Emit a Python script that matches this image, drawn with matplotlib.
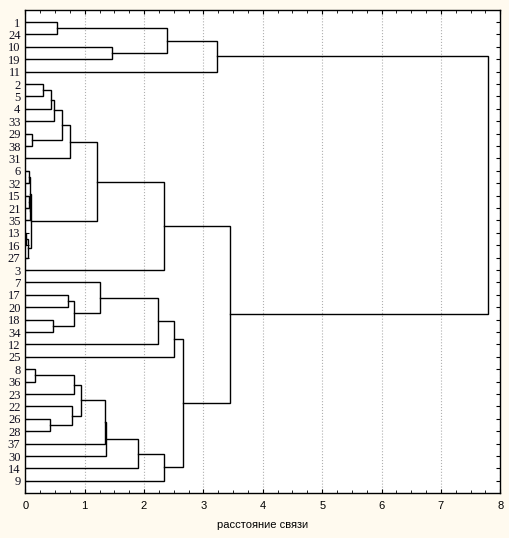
import matplotlib.pyplot as plt
from matplotlib.ticker import MultipleLocator

# leaf labels, top to bottom, as they appear on the tree
leaves = ["1", "24", "10", "19", "11", "2", "5", "4", "33", "29", "38", "31",
          "6", "32", "15", "21", "35", "13", "16", "27", "3", "7", "17", "20",
          "18", "34", "12", "25", "8", "36", "23", "22", "26", "28", "37", "30",
          "14", "9"]

# merges (scipy style ids: leaves 0..37, merge k gets id 38 + k)
merge_a = [0, 2, 38, 40, 5, 42, 43, 9, 44, 46, 12, 14, 49, 48, 17, 52, 51, 47,
           55, 22, 24, 57, 21, 60, 61, 28, 63, 32, 31, 64, 67, 68, 69, 70, 62,
           56, 41]
merge_b = [1, 3, 39, 4, 6, 7, 8, 10, 45, 11, 13, 15, 16, 50, 18, 19, 53, 54,
           20, 23, 25, 58, 59, 26, 27, 29, 30, 33, 65, 66, 34, 35, 36, 37, 71,
           72, 73]
merge_h = [0.54, 1.46, 2.39, 3.23, 0.29, 0.44, 0.49, 0.12, 0.62, 0.75, 0.06,
           0.07, 0.08, 0.085, 0.02, 0.04, 0.09, 1.21, 2.34, 0.72, 0.46, 0.82,
           1.25, 2.24, 2.50, 0.17, 0.82, 0.42, 0.79, 0.93, 1.35, 1.36, 1.89,
           2.34, 2.66, 3.45, 7.79]

bg = "#fffaef"


def plot():
    fig = plt.figure(figsize=(5.09, 5.38), dpi=100, facecolor=bg)
    ax = fig.add_axes([25.3 / 509, 45 / 538, 475 / 509, 482.6 / 538])
    ax.set_facecolor("white")

    n = len(leaves)
    pos = {i: float(i) for i in range(n)}
    hgt = {i: 0.0 for i in range(n)}

    for k, (a, b, h) in enumerate(zip(merge_a, merge_b, merge_h)):
        ax.plot([hgt[a], h, h, hgt[b]], [pos[a], pos[a], pos[b], pos[b]],
                color="black", lw=1.0, solid_joinstyle="miter", zorder=3)
        pos[n + k] = (pos[a] + pos[b]) / 2
        hgt[n + k] = h

    ax.set_xlim(0, 8)
    ax.set_ylim(37.98, -0.94)

    ax.set_yticks(range(n))
    ax.set_yticklabels(leaves, family="Liberation Serif", fontsize=9,
                       color="#101020")
    ax.tick_params(axis="y", direction="in", right=True, length=3, pad=3.5)

    ax.xaxis.set_major_locator(MultipleLocator(1))
    ax.xaxis.set_minor_locator(MultipleLocator(0.25))
    ax.tick_params(axis="x", which="both", direction="in", top=True, pad=6)
    ax.tick_params(axis="x", which="major", length=3)
    ax.tick_params(axis="x", which="minor", length=2)
    for t in ax.get_xticklabels():
        t.set_family("Liberation Sans")
        t.set_fontsize(8)

    ax.grid(axis="x", which="major", color="#b0b0b0", ls=":", lw=0.8)
    ax.set_axisbelow(True)
    for s in ax.spines.values():
        s.set_linewidth(1.0)

    ax.set_xlabel("расстояние связи", family="Liberation Sans", fontsize=8,
                  labelpad=6)

    fig.savefig("out.png", dpi=100, facecolor=bg)


if __name__ == "__main__":
    plot()
